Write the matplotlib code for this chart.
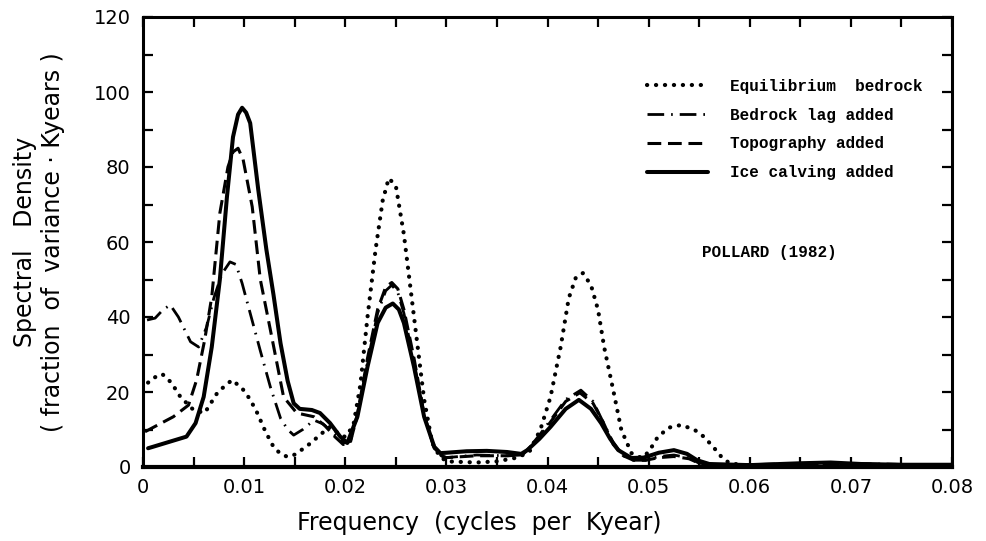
import matplotlib
matplotlib.use("Agg")
import matplotlib.pyplot as plt
from matplotlib.ticker import MultipleLocator, FixedLocator

# ---------------- data ----------------
eq_x = [0.0005, 0.001, 0.0019, 0.0028, 0.0037, 0.005, 0.0061, 0.0074, 0.0088, 0.0098,
        0.0106, 0.0113, 0.0121, 0.0129, 0.0136, 0.0143, 0.015, 0.0158, 0.0166, 0.0176,
        0.0185, 0.0193, 0.020, 0.0208, 0.0215, 0.0222, 0.023, 0.0237, 0.0243, 0.025,
        0.0258, 0.0268, 0.0278, 0.0286, 0.0293, 0.030, 0.033, 0.035, 0.037, 0.0382,
        0.0393, 0.0403, 0.0413, 0.0421, 0.0428, 0.0435, 0.0443, 0.045, 0.0456, 0.0465,
        0.0473, 0.0483, 0.0493, 0.050, 0.0509, 0.052, 0.0532, 0.0545, 0.0555, 0.0565,
        0.0572, 0.058, 0.060, 0.065, 0.070, 0.080]
eq_y = [22.5, 23.7, 24.8, 22.5, 18.7, 15.2, 14.4, 20.0, 23.2, 21.0,
        18.0, 14.4, 9.5, 5.4, 3.5, 2.7, 3.3, 4.8, 6.4, 8.8,
        10.7, 9.0, 8.0, 11.0, 22.0, 40.0, 58.0, 71.0, 77.0, 75.0,
        62.0, 40.0, 18.0, 6.4, 3.0, 1.5, 1.2, 1.5, 2.5, 4.0,
        10.0, 18.7, 32.0, 45.0, 50.5, 51.7, 48.5, 41.9, 32.0, 20.5,
        9.9, 3.7, 2.4, 4.0, 8.0, 10.5, 11.2, 10.0, 8.0, 5.0,
        2.7, 1.0, 0.3, 0.5, 0.5, 0.3]

lag_x = [0.0004, 0.0012, 0.002, 0.0027, 0.0035, 0.0047, 0.0055, 0.0063, 0.007, 0.0078,
         0.0086, 0.0092, 0.0098, 0.0106, 0.0116, 0.0126, 0.0136, 0.0143, 0.0149, 0.0158,
         0.0169, 0.0178, 0.019, 0.0199, 0.0205, 0.0212, 0.0222, 0.0232, 0.024, 0.0246,
         0.0252, 0.0258, 0.0268, 0.0278, 0.0288, 0.0295, 0.030, 0.033, 0.036, 0.0375,
         0.038, 0.0392, 0.0403, 0.0418, 0.0433, 0.0445, 0.0455, 0.0465, 0.0475, 0.0485,
         0.0497, 0.051, 0.0525, 0.054, 0.055, 0.057, 0.065, 0.070, 0.080]
lag_y = [39.2, 39.7, 42.0, 43.2, 40.0, 33.4, 32.0, 37.4, 45.0, 51.5,
         54.7, 54.0, 49.0, 41.0, 31.0, 21.3, 13.0, 10.0, 8.5, 10.0,
         12.5, 11.5, 8.5, 6.4, 6.8, 13.5, 28.0, 41.0, 47.0, 48.5,
         46.5, 41.0, 28.0, 14.0, 5.0, 3.0, 2.5, 3.2, 3.0, 3.2,
         4.5, 8.5, 12.5, 18.0, 20.5, 17.5, 12.0, 6.5, 3.0, 1.8,
         1.8, 2.8, 3.2, 2.4, 1.0, 0.5, 0.9, 0.9, 0.5]

topo_x = [0.0002, 0.003, 0.0045, 0.0053, 0.0061, 0.0068, 0.0076, 0.0084, 0.0089, 0.0094,
          0.0099, 0.0104, 0.0108, 0.0116, 0.0126, 0.0139, 0.0152, 0.0169, 0.018, 0.019,
          0.0198, 0.0205, 0.0212, 0.0222, 0.0232, 0.024, 0.0246, 0.0252, 0.0258, 0.0268,
          0.0278, 0.0288, 0.0295, 0.030, 0.033, 0.036, 0.0375, 0.038, 0.0392, 0.0403,
          0.0418, 0.0432, 0.0445, 0.0455, 0.0465, 0.0475, 0.0485, 0.0497, 0.051, 0.0525,
          0.054, 0.055, 0.057, 0.065, 0.070, 0.080]
topo_y = [9.4, 13.4, 16.5, 23.2, 33.9, 45.4, 67.7, 80.0, 84.0, 85.0,
          82.0, 75.0, 69.4, 50.0, 36.5, 18.7, 14.4, 13.4, 11.0, 8.0,
          6.0, 6.5, 14.0, 29.0, 42.0, 48.0, 49.2, 47.5, 42.0, 29.0,
          14.0, 5.0, 3.0, 2.5, 3.0, 3.0, 3.2, 4.5, 8.0, 12.0,
          17.5, 19.8, 17.0, 12.0, 6.0, 3.0, 1.8, 1.8, 2.5, 2.8,
          2.2, 1.0, 0.5, 0.8, 0.8, 0.5]

ice_x = [0.0005, 0.001, 0.0043, 0.0052, 0.006, 0.0068, 0.0076, 0.0083, 0.0089, 0.0094,
         0.0098, 0.0102, 0.0106, 0.0114, 0.0122, 0.0129, 0.0136, 0.0143, 0.0149, 0.0155,
         0.0167, 0.0175, 0.0185, 0.0195, 0.0202, 0.0212, 0.0222, 0.0232, 0.024, 0.0247,
         0.0253, 0.0258, 0.0268, 0.0278, 0.0288, 0.0294, 0.030, 0.032, 0.034, 0.036,
         0.0374, 0.038, 0.0392, 0.0403, 0.0418, 0.0431, 0.0443, 0.0453, 0.0462, 0.047,
         0.0483, 0.0495, 0.051, 0.0525, 0.0538, 0.0548, 0.056, 0.060, 0.065, 0.068,
         0.071, 0.075, 0.080]
ice_y = [5.0, 5.4, 8.1, 11.7, 18.7, 32.0, 50.0, 72.0, 88.0, 94.0,
         95.8, 94.5, 91.7, 73.9, 58.0, 46.0, 33.0, 23.0, 17.0, 15.5,
         15.2, 14.4, 11.7, 8.1, 6.4, 13.4, 26.7, 38.4, 42.5, 43.6,
         42.0, 38.4, 26.7, 13.4, 5.4, 3.7, 3.8, 4.2, 4.3, 4.0,
         3.5, 4.5, 7.5, 10.7, 15.5, 17.9, 15.5, 11.7, 7.5, 4.5,
         2.4, 2.5, 3.8, 4.5, 3.5, 1.8, 0.8, 0.5, 1.0, 1.2,
         0.8, 0.6, 0.6]

labels = ["Equilibrium  bedrock", "Bedrock lag added", "Topography added", "Ice calving added"]
x_ticks = [0, 0.01, 0.02, 0.03, 0.04, 0.05, 0.06, 0.07, 0.08]
x_ticklabels = ["0", "0.01", "0.02", "0.03", "0.04", "0.05", "0.06", "0.07", "0.08"]
y_ticks = [0, 20, 40, 60, 80, 100, 120]

# ---------------- figure ----------------
fig = plt.figure(figsize=(9.87, 5.41), dpi=100)
ax = fig.add_axes([143 / 987, 1 - 467 / 541, 809 / 987, 450 / 541])

k = "black"
l1, = ax.plot(eq_x, eq_y, color=k, lw=3.0, linestyle=(0, (0.05, 2.1)),
              dash_capstyle="round", solid_capstyle="round", label=labels[0])
l2, = ax.plot(lag_x, lag_y, color=k, lw=2.0, linestyle=(0, (6.0, 2.5, 0.6, 2.5)),
              label=labels[1])
l3, = ax.plot(topo_x, topo_y, color=k, lw=2.2, linestyle=(0, (4.5, 2.2)), label=labels[2])
l4, = ax.plot(ice_x, ice_y, color=k, lw=2.9, solid_capstyle="round",
              solid_joinstyle="round", label=labels[3])

ax.set_xlim(0, 0.08)
ax.set_ylim(0, 120)
ax.xaxis.set_major_locator(FixedLocator(x_ticks))
ax.set_xticklabels(x_ticklabels)
ax.xaxis.set_minor_locator(MultipleLocator(0.005))
ax.yaxis.set_major_locator(FixedLocator(y_ticks))
ax.yaxis.set_minor_locator(MultipleLocator(10))

ax.tick_params(which="both", direction="in", top=True, right=True,
               length=7, width=1.6, color=k)
ax.tick_params(axis="x", which="major", labelsize=14, pad=8)
ax.tick_params(axis="y", which="major", labelsize=14, pad=9)
for side in ["left", "top", "right"]:
    ax.spines[side].set_linewidth(2.2)
ax.spines["bottom"].set_linewidth(3.0)

ax.set_xlabel("Frequency  (cycles  per  Kyear)", fontsize=17)
ax.xaxis.set_label_coords((479 - 143) / 809, -44 / 450)
ax.set_ylabel("Spectral   Density\n( fraction  of  variance · Kyears )", fontsize=17,
              linespacing=1.25, va="center", ha="center")
ax.yaxis.set_label_coords((39 - 143) / 809, 0.5)

leg = ax.legend(handles=[l1, l2, l3, l4], loc="upper left",
                bbox_to_anchor=((639 - 143) / 809, (467 - 71) / 450),
                frameon=False, borderpad=0, handlelength=3.8, handletextpad=1.4,
                labelspacing=0.86,
                prop={"family": "Liberation Mono", "weight": "bold", "size": 11.5})

ax.text(0.0553, 57.3, "POLLARD (1982)", fontsize=11.5, family="Liberation Mono",
        weight="bold", va="center", ha="left")

fig.savefig("out.png", dpi=100)
